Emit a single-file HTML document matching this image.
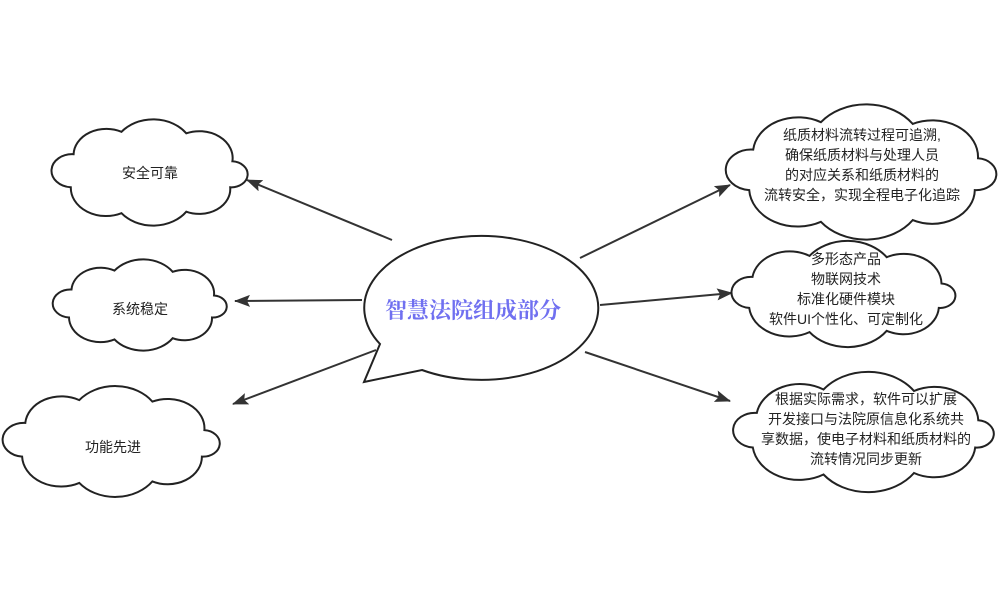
<!DOCTYPE html>
<html><head><meta charset="utf-8"><style>
body{margin:0;background:#fff;}
svg{display:block}
text{font-family:"Liberation Sans","Noto Sans CJK SC",sans-serif;font-size:14px;fill:#222;text-anchor:middle}
</style></head><body>
<svg id="s" width="1000" height="600" viewBox="0 0 1000 600">
<defs><marker id="a" markerWidth="16" markerHeight="12" refX="15" refY="6" orient="auto" markerUnits="userSpaceOnUse"><path d="M0,0 L16,6 L0,12 L3,6 Z" fill="#333"/></marker></defs>
<g stroke="#333" stroke-width="2" fill="none" marker-end="url(#a)">
<line x1="392" y1="240" x2="247" y2="180"/>
<line x1="362" y1="300" x2="235" y2="301"/>
<line x1="376" y1="350" x2="233" y2="404"/>
<line x1="580" y1="258" x2="730" y2="185"/>
<line x1="600" y1="305" x2="732" y2="293"/>
<line x1="585" y1="352" x2="730" y2="401"/>
</g>
<g id="clouds" stroke="#222" stroke-width="2" fill="#fff"></g>
<path d="M380,344 A117,72 0 1 1 422,370 L364,382 Z" fill="#fff" stroke="#222" stroke-width="2"/>
<text x="473" y="318" style="font-family:'Liberation Serif','Noto Serif CJK SC',serif;font-size:22px;font-weight:bold;fill:#7070f0">智慧法院组成部分</text>
<text x="150" y="178">安全可靠</text>
<text x="140" y="314">系统稳定</text>
<text x="113" y="452">功能先进</text>
<text x="862" y="140">纸质材料流转过程可追溯,</text>
<text x="862" y="160">确保纸质材料与处理人员</text>
<text x="862" y="180">的对应关系和纸质材料的</text>
<text x="862" y="200">流转安全，实现全程电子化追踪</text>
<text x="846" y="264">多形态产品</text>
<text x="846" y="284">物联网技术</text>
<text x="846" y="304">标准化硬件模块</text>
<text x="846" y="324">软件UI个性化、可定制化</text>
<text x="866" y="404">根据实际需求，软件可以扩展</text>
<text x="866" y="424">开发接口与法院原信息化系统共</text>
<text x="866" y="444">享数据，使电子材料和纸质材料的</text>
<text x="866" y="464">流转情况同步更新</text>
</svg>
<script>
var boxes=[[53,117,195,111],[53,258,175,94],[2,385,220,113],[724,104,276,136],[728,242,232,104],[728,374,272,116]];
var angs=[160,205,250,295,345,20,65,110];
var g=document.getElementById('clouds');
boxes.forEach(function(b){var x=b[0],y=b[1],w=b[2],h=b[3];
var cx=x+w/2,cy=y+h/2,rx=w/2*0.87,ry=h/2*0.78;
var pts=angs.map(function(a){var r=a*Math.PI/180;return [cx+rx*Math.cos(r),cy+ry*Math.sin(r)];});
var d='M'+pts[0][0].toFixed(1)+','+pts[0][1].toFixed(1);
for(var i=0;i<pts.length;i++){var p=pts[i],q=pts[(i+1)%pts.length];
var c=Math.hypot(q[0]-p[0],q[1]-p[1]);var r=c*0.62;
d+=' A'+r.toFixed(1)+','+(r*0.8).toFixed(1)+' 0 0 1 '+q[0].toFixed(1)+','+q[1].toFixed(1);}
d+=' Z';
var e=document.createElementNS('http://www.w3.org/2000/svg','path');e.setAttribute('d',d);g.appendChild(e);});
</script>
</body></html>
